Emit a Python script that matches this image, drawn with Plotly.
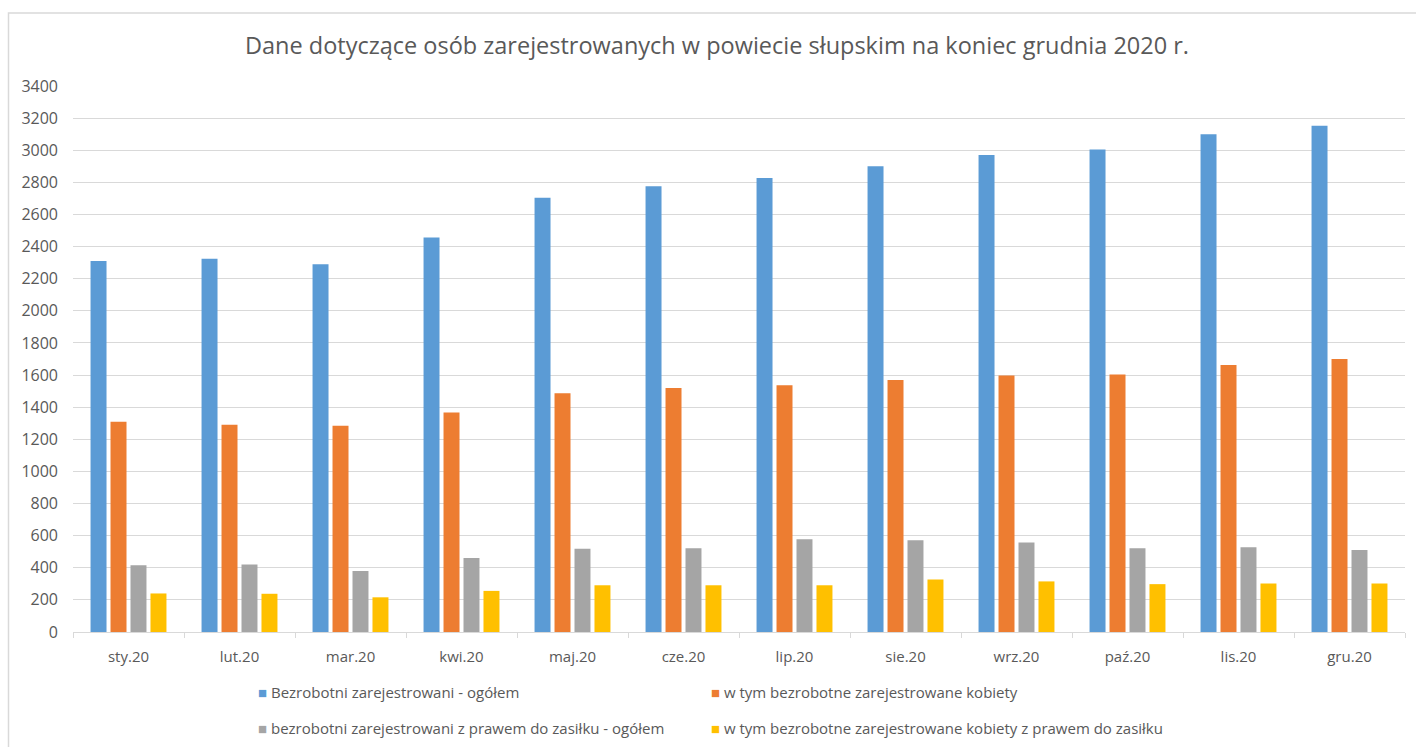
import plotly.graph_objects as go

# miesiace 2020
months = ['sty.20', 'lut.20', 'mar.20', 'kwi.20', 'maj.20', 'cze.20',
          'lip.20', 'sie.20', 'wrz.20', 'paź.20', 'lis.20', 'gru.20']

bezrobotni_ogolem = [2310, 2325, 2290, 2456, 2704, 2775, 2827, 2900, 2970, 3005, 3099, 3153]
kobiety = [1310, 1290, 1284, 1367, 1487, 1519, 1537, 1569, 1597, 1603, 1663, 1700]
z_prawem_ogolem = [415, 421, 380, 461, 518, 522, 578, 572, 557, 521, 527, 510]
kobiety_z_prawem = [240, 238, 216, 256, 291, 291, 291, 327, 315, 298, 302, 302]

series_names = [
    'Bezrobotni zarejestrowani - ogółem',
    'w tym bezrobotne zarejestrowane kobiety',
    'bezrobotni zarejestrowani z prawem do zasiłku - ogółem',
    'w tym bezrobotne zarejestrowane kobiety z prawem do zasiłku',
]
colors = ['#5B9BD5', '#ED7D31', '#A5A5A5', '#FFC000']
y_ticks = list(range(0, 3401, 200))

W, H = 1416, 747
# obszar wykresu (piksele)
PL, PR, PT, PB = 73, 1405, 86, 632
L, R, T, B = PL, W - PR, PT, H - PB
pw, ph = W - L - R, H - T - B
FONT = 'Open Sans'
TXT = '#595959'
GRID = '#d9d9d9'

def px_x(p):
    return (p - PL) / pw

def px_y(p):
    return (PB - p) / ph

fig = go.Figure()
all_series = [bezrobotni_ogolem, kobiety, z_prawem_ogolem, kobiety_z_prawem]
for vals, name, col in zip(all_series, series_names, colors):
    fig.add_trace(go.Bar(
        x=months,
        y=vals,
        name=name,
        marker=dict(color=col, line=dict(width=0)),
        showlegend=False,
        hoverinfo='x+y+name'))

# legenda 2x2 jak w Excelu - kazdy wpis osobno
legend_pos = [(258, 692), (711, 692), (258, 728), (711, 728)]
legend_keys = ['legend', 'legend2', 'legend3', 'legend4']
legend_layout = {}
for name, col, key, (lx, ly) in zip(series_names, colors, legend_keys, legend_pos):
    fig.add_trace(go.Scatter(
        x=[None], y=[None],
        mode='markers',
        marker=dict(color='rgba(0,0,0,0)', size=1),
        name=f'<span style="color:{col}">■</span> {name}',
        legend=key,
        hoverinfo='skip'))
    legend_layout[key] = dict(
        orientation='h',
        xref='container',
        yref='container',
        xanchor='left',
        yanchor='middle',
        x=(lx - 40) / W,
        y=1 - ly / H,
        itemwidth=30,
        font=dict(family=FONT, size=15, color=TXT),
        bgcolor='rgba(0,0,0,0)',
    )

fig.update_layout(
    width=W,
    height=H,
    margin=dict(l=L, r=R, t=T, b=B, autoexpand=False),
    paper_bgcolor='white',
    plot_bgcolor='white',
    barmode='group',
    bargap=0.28,
    bargroupgap=0.2,
    title=dict(
        text='Dane dotyczące osób zarejestrowanych w powiecie słupskim na koniec grudnia 2020 r.',
        x=717 / W,
        xanchor='center',
        xref='container',
        y=1 - 46 / H,
        yanchor='middle',
        yref='container',
        font=dict(family=FONT, size=23.5, color=TXT)),
    font=dict(family=FONT, color=TXT),
    **legend_layout,
)

fig.update_yaxes(
    range=[0, 3400],
    tickvals=y_ticks,
    showgrid=True,
    gridcolor=GRID,
    gridwidth=1,
    zeroline=False,
    showline=False,
    ticks='',
    ticklabelstandoff=14,
    tickfont=dict(family=FONT, size=16, color=TXT),
)
fig.update_xaxes(
    showline=True,
    linecolor=GRID,
    linewidth=1,
    ticks='outside',
    tickson='boundaries',
    ticklen=5,
    tickcolor=GRID,
    showgrid=False,
    ticklabelstandoff=11,
    tickfont=dict(family=FONT, size=15, color=TXT),
)

# ramka wykresu
fig.add_shape(
    type='rect', xref='paper', yref='paper',
    x0=px_x(8.5), x1=px_x(1430), y0=px_y(770), y1=px_y(13),
    line=dict(color=GRID, width=1.5), layer='below')

# bez marginesu strony, zeby figura zajmowala cale okno
reset_css = ("document.documentElement.style.margin='0';"
             "document.body.style.margin='0';"
             "document.documentElement.style.overflow='hidden';"
             "document.body.style.overflow='hidden';")
fig.write_html("out.html", post_script=reset_css,
               config={'displayModeBar': False})
